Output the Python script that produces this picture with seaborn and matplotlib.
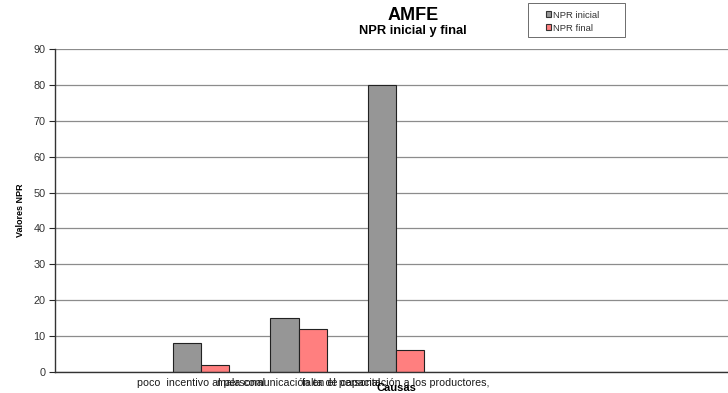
import matplotlib
matplotlib.use("Agg")
import matplotlib.pyplot as plt
import seaborn as sns
import pandas as pd
from matplotlib.patches import Patch, Rectangle

# Causes and their NPR values before and after corrective actions
causas = [
    "poco  incentivo al personal",
    "mala comunicación en el personal",
    "falta de capacitación a los productores,",
]
npr_inicial = [8, 15, 80]
npr_final = [2, 12, 6]
series = ["NPR inicial", "NPR final"]
colores = ["#969696", "#FF7F7F"]
y_ticks = list(range(0, 91, 10))

df = pd.DataFrame({
    "Causa": causas * 2,
    "Serie": [series[0]] * len(causas) + [series[1]] * len(causas),
    "NPR": npr_inicial + npr_final,
})

sns.set_style("white")
plt.rcParams["font.family"] = ["Liberation Sans", "DejaVu Sans"]
plt.rcParams["text.color"] = "black"
plt.rcParams["axes.labelcolor"] = "black"

fig = plt.figure(figsize=(7.28, 3.93), dpi=100)
ax = fig.add_axes([55 / 728, 21 / 393, (737 - 55) / 728, (372 - 49) / 393])

sns.barplot(data=df, x="Causa", y="NPR", hue="Serie", order=causas,
            hue_order=series, palette=colores, width=0.58,
            edgecolor="#222222", linewidth=0.8, saturation=1,
            legend=False, ax=ax)

# Seven category slots along the axis; the causes occupy slots 2-4
ax.set_xlim(-1.5, 5.5)
ax.set_ylim(0, 90)
ax.set_yticks(y_ticks)
ax.yaxis.grid(True, color="#8c8c8c", linewidth=0.9)
ax.set_axisbelow(True)

ax.set_xticks(range(len(causas)))
ax.set_xticklabels(causas, fontsize=7.7, color="#1a1a1a")
ax.set_xticks([x - 0.5 for x in range(-1, 7)], minor=True)
ax.tick_params(axis="x", which="major", length=0, pad=4)
ax.tick_params(axis="x", which="minor", length=3, width=0.6, color="#555555", direction="out")
ax.tick_params(axis="y", length=4, width=0.8, direction="out", labelsize=7.8,
               labelcolor="#333333", pad=3, left=True)

for side in ["top", "right"]:
    ax.spines[side].set_visible(False)
for side in ["left", "bottom"]:
    ax.spines[side].set_color("#333333")
    ax.spines[side].set_linewidth(1.0)

ax.set_xlabel("Causas", fontsize=8, fontweight="bold", labelpad=-3)
ax.set_ylabel("Valores NPR", fontsize=6.5, fontweight="bold", labelpad=6)

fig.text(413 / 728, 1 - 16 / 393, "AMFE", ha="center", va="center",
         fontsize=13, fontweight="bold")
fig.text(413 / 728, 1 - 31 / 393, "NPR inicial y final", ha="center", va="center",
         fontsize=9.3, fontweight="bold")

# Legend box drawn as a plain frame with the entries inside
fig.patches.append(Rectangle((528 / 728, 1 - 37 / 393), 97 / 728, 34 / 393,
                             transform=fig.transFigure, facecolor="white",
                             edgecolor="#555555", linewidth=0.6))
handles = [Patch(facecolor=c, edgecolor="#333333", linewidth=0.8) for c in colores]
leg = fig.legend(handles, series, loc="upper left", bbox_to_anchor=(538 / 728, 1 - 3 / 393),
                 fontsize=6.8, frameon=False, handlelength=0.6,
                 handleheight=0.6, handletextpad=0.2, borderpad=0.3,
                 labelspacing=0.45, labelcolor="#333333")

fig.savefig("out.png", dpi=100)
